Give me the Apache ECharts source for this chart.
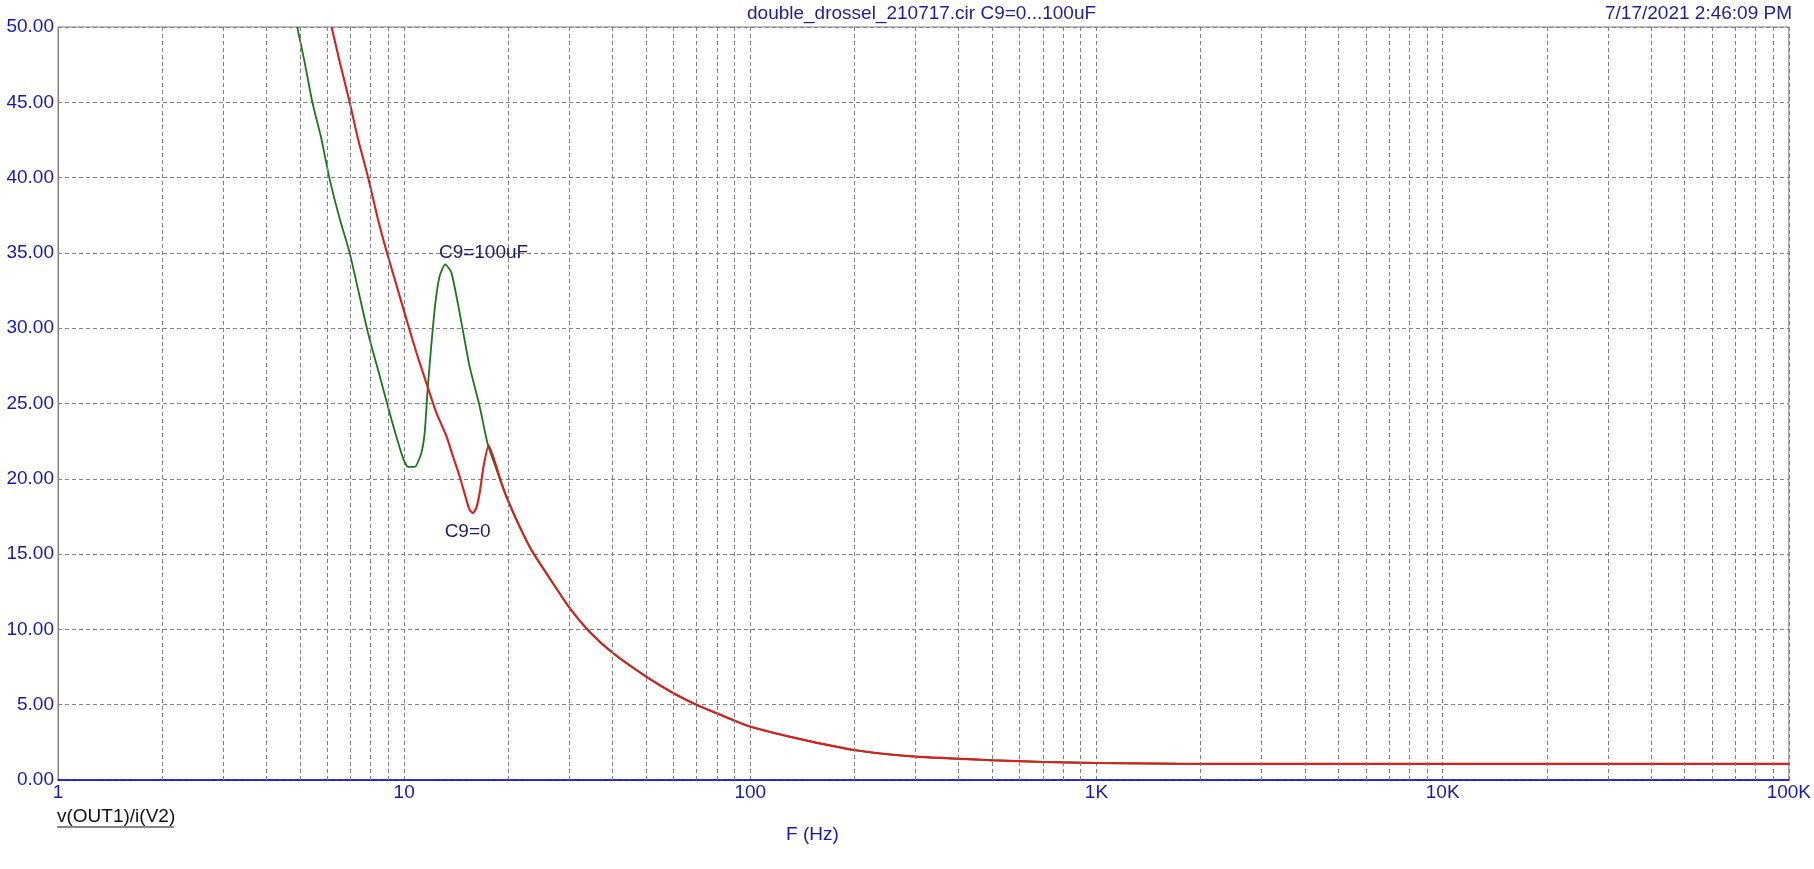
<html>
<head>
    <meta charset='UTF-8'>
    <title>double_drossel_210717</title>
    <style>
        html, body { margin: 0; padding: 0; background: #ffffff; }
        #chart { width: 1814px; height: 869px; }
    </style>
</head>
<body>
    <div id='chart'></div>
</body>
<script src='https://cdn.jsdelivr.net/npm/echarts@6/dist/echarts.min.js'></script>
<script>
    // x tick labels, one per decade 1 .. 100K
    var xTickLabels = ['1', '10', '100', '1K', '10K', '100K'];
    var minorMultiples = [2, 3, 4, 5, 6, 7, 8, 9];

    // C9=100uF (green), low frequency part
    var greenFreq = [4.91, 5.16, 5.43, 5.77, 6.07, 6.52, 6.96, 7.86, 8.50, 9.19, 9.92, 10.27, 10.73, 11.21, 11.46, 11.71, 12.25, 12.66, 13.15, 13.69, 14.46, 15.45, 16.52, 17.45];
    var greenVal  = [50, 47.65, 45, 42.55, 40.05, 37.23, 35, 29.7, 26.82, 23.94, 21.39, 20.79, 20.79, 21.72, 23.05, 26.15, 31.25, 33.46, 34.24, 33.69, 31.03, 27.48, 24.82, 22.27];

    // C9=0 (red), low frequency part
    var redFreq = [6.17, 6.52, 6.96, 7.36, 7.86, 8.40, 8.92, 9.49, 10.15, 10.84, 11.71, 12.38, 13.24, 13.83, 14.46, 15.12, 15.45, 15.80, 16.16, 16.52, 16.96, 17.54, 18.46];
    var redVal  = [50, 47.65, 45, 42.55, 40.05, 37.23, 35.0, 32.9, 30.6, 28.4, 26.05, 24.4, 22.85, 21.5, 20.17, 18.62, 17.95, 17.73, 18.07, 19.06, 20.83, 22.21, 20.83];

    // both curves coincide above ~19 Hz
    var tailFreq = [19.08, 20, 21.54, 23.29, 25.73, 30, 34.3, 40, 50, 60, 70, 80, 90, 100, 138.5, 200, 300, 500, 700, 1000, 1700, 3000, 10000, 100000];
    var tailVal  = [19.73, 18.5, 16.84, 15.29, 13.74, 11.45, 9.85, 8.45, 6.87, 5.76, 4.99, 4.43, 3.94, 3.54, 2.73, 1.99, 1.55, 1.31, 1.2, 1.13, 1.08, 1.07, 1.07, 1.07];

    function pairs(f, v) {
        var out = [];
        for (var i = 0; i < f.length; i++) out.push([f[i], v[i]]);
        return out;
    }

    var blue = '#1818B0';
    var font = '19px Liberation Sans, Arial, sans-serif';

    var mychart = echarts.init(document.getElementById('chart'));

    // dashed lines at 2..9 of every decade
    var minorLines = [];
    for (var d = 0; d < xTickLabels.length - 1; d++) {
        minorMultiples.forEach(function (m) {
            minorLines.push({ xAxis: m * Math.pow(10, d) });
        });
    }

    var option = {
        animation: false,
        textStyle: { fontFamily: 'Liberation Sans, Arial, sans-serif' },
        grid: {
            left: 58, right: 23, top: 27, bottom: 89,
            show: true, borderColor: '#808080', borderWidth: 1
        },
        xAxis: {
            type: 'log',
            logBase: 10,
            min: 1,
            max: 100000,
            axisLine: { show: true, lineStyle: { color: '#0000C0', width: 1.5 } },
            axisTick: { show: false },
            splitLine: { show: true, lineStyle: { color: '#808080', type: [4, 3], width: 1 } },
            axisLabel: {
                color: blue, fontSize: 19, margin: 3,
                showMinLabel: true, showMaxLabel: true,
                formatter: function (v) {
                    var i = Math.round(Math.log(v) / Math.LN10);
                    return xTickLabels[i] || '';
                }
            }
        },
        yAxis: {
            type: 'value',
            min: 0,
            max: 50,
            interval: 5,
            axisLine: { show: true, lineStyle: { color: '#808080', width: 1 } },
            axisTick: { show: false },
            splitLine: { show: true, lineStyle: { color: '#808080', type: [4, 3], width: 1 } },
            axisLabel: {
                color: blue, fontSize: 19, margin: 4,
                formatter: function (v) { return v.toFixed(2); }
            }
        },
        graphic: [
            {
                type: 'text', left: 747, top: 4,
                style: { text: 'double_drossel_210717.cir C9=0...100uF', fill: '#1c1c9c', font: font }
            },
            {
                type: 'text', right: 22, top: 4,
                style: { text: '7/17/2021 2:46:09 PM', fill: '#1c1c9c', font: font }
            },
            {
                type: 'text', left: 57, top: 807,
                style: { text: 'v(OUT1)/i(V2)', fill: '#111111', font: font }
            },
            {
                type: 'line', shape: { x1: 57, y1: 827, x2: 174, y2: 827 },
                style: { stroke: '#111111', lineWidth: 1.2 }
            },
            {
                type: 'text', left: 786, top: 825,
                style: { text: 'F (Hz)', fill: blue, font: font }
            }
        ],
        series: [
            {
                name: 'minor grid',
                type: 'line',
                data: [],
                silent: true,
                z: 1,
                markLine: {
                    silent: true,
                    symbol: ['none', 'none'],
                    label: { show: false },
                    lineStyle: { color: '#808080', type: [4, 3], width: 1 },
                    data: minorLines
                }
            },
            {
                name: 'C9=100uF',
                type: 'line',
                z: 3,
                showSymbol: false,
                smooth: 0.2,
                clip: true,
                lineStyle: { color: '#1B761B', width: 1.8 },
                data: pairs(greenFreq.concat(tailFreq), greenVal.concat(tailVal)),
                markPoint: {
                    silent: true,
                    symbolSize: 0,
                    label: {
                        show: true, position: 'right', distance: 0,
                        color: '#1c1c6c', fontSize: 19,
                        formatter: 'C9=100uF'
                    },
                    data: [{ coord: [12.6, 35.02] }]
                }
            },
            {
                name: 'C9=0',
                type: 'line',
                z: 4,
                showSymbol: false,
                smooth: 0.2,
                clip: true,
                lineStyle: { color: '#D91E1E', width: 2.1 },
                data: pairs(redFreq.concat(tailFreq), redVal.concat(tailVal)),
                markPoint: {
                    silent: true,
                    symbolSize: 0,
                    label: {
                        show: true, position: 'right', distance: 0,
                        color: '#1c1c6c', fontSize: 19,
                        formatter: 'C9=0'
                    },
                    data: [{ coord: [13.09, 16.51] }]
                }
            }
        ]
    };
    mychart.setOption(option);
</script>
</html>
